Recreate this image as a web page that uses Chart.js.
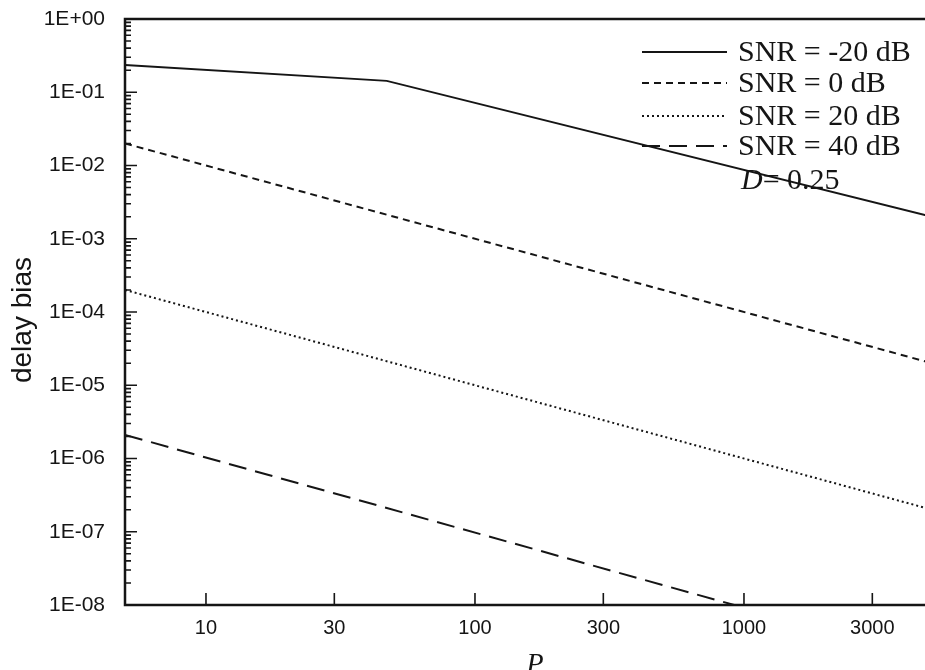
<!DOCTYPE html>
<html>
<head>
<meta charset="utf-8">
<title>delay bias vs P</title>
<script src="https://cdn.jsdelivr.net/npm/chart.js@4/dist/chart.umd.min.js"></script>
<style>
  html, body { margin: 0; padding: 0; background: #fff; overflow: hidden; }
  #canvasContainer { position: relative; width: 932px; height: 670px; }
</style>
</head>
<body>
<div id="canvasContainer"><canvas id="myChart"></canvas></div>
<script>
// values
const seriesLabels = ["SNR = -20 dB", "SNR = 0 dB", "SNR = 20 dB", "SNR = 40 dB"];
const pM20 = [5, 47, 5000];
const biasM20 = [0.236, 0.143, 0.002];
const p0 = [5, 5000];
const bias0 = [0.02, 2e-5];
const p20 = [5, 5000];
const bias20 = [2e-4, 2e-7];
const p40 = [5, 920];
const bias40 = [2.1e-6, 1e-8];
const xTicks = [10, 30, 100, 300, 1000, 3000];
const yExps = [0, -1, -2, -3, -4, -5, -6, -7, -8];
const noteVar = "D";
const noteRest = "= 0.25";

const ink = "#151515";
const dashes = [[], [7, 5], [2, 3], [18, 9]];

const toPoints = (xs, ys) => xs.map((x, i) => ({ x: x, y: ys[i] }));

const makeSet = (label, xs, ys, i) => ({
    label: label,
    data: toPoints(xs, ys),
    borderColor: ink,
    borderWidth: 2,
    borderDash: dashes[i],
    pointRadius: 0,
    tension: 0,
    fill: false
});

const fmtExp = (v) => {
    const e = Math.round(Math.log10(v));
    const s = e >= 0 ? "+" : "-";
    return "1E" + s + String(Math.abs(e)).padStart(2, "0");
};

// axes frame, inward ticks, legend and axis titles
const framePlugin = {
    id: "frame",
    afterDatasetsDraw(chart) {
        const ctx = chart.ctx;
        const a = chart.chartArea;
        const xs = chart.scales.x;
        const ys = chart.scales.y;
        ctx.save();
        ctx.strokeStyle = ink;
        ctx.setLineDash([]);

        // frame lines (left, bottom, top)
        ctx.lineWidth = 2.5;
        ctx.beginPath();
        ctx.moveTo(a.right + 2, a.top);
        ctx.lineTo(a.left, a.top);
        ctx.lineTo(a.left, a.bottom);
        ctx.lineTo(a.right + 2, a.bottom);
        ctx.stroke();

        // y ticks, major and minor
        ctx.lineWidth = 1.6;
        ctx.beginPath();
        yExps.forEach(e => {
            const y = ys.getPixelForValue(Math.pow(10, e));
            ctx.moveTo(a.left, y);
            ctx.lineTo(a.left + 12, y);
            if (e < 0) {
                for (let m = 2; m <= 9; m++) {
                    const ym = ys.getPixelForValue(m * Math.pow(10, e));
                    ctx.moveTo(a.left, ym);
                    ctx.lineTo(a.left + 6, ym);
                }
            }
        });
        // x ticks
        xTicks.forEach(v => {
            const x = xs.getPixelForValue(v);
            ctx.moveTo(x, a.bottom);
            ctx.lineTo(x, a.bottom - 12);
        });
        ctx.stroke();

        // legend inside the plot
        const lx0 = 642, lx1 = 727, tx = 738;
        const lineY = [52, 83, 116, 146];
        const baseY = [61, 92, 125, 155];
        ctx.font = "30px 'Liberation Serif'";
        ctx.textBaseline = "alphabetic";
        ctx.textAlign = "left";
        ctx.fillStyle = ink;
        chart.data.datasets.forEach((ds, i) => {
            ctx.lineWidth = 2;
            ctx.setLineDash(ds.borderDash);
            ctx.beginPath();
            ctx.moveTo(lx0, lineY[i]);
            ctx.lineTo(lx1, lineY[i]);
            ctx.stroke();
            ctx.fillText(ds.label, tx, baseY[i]);
        });
        ctx.setLineDash([]);
        ctx.font = "italic 30px 'Liberation Serif'";
        ctx.fillText(noteVar, tx + 3, 189);
        const dw = ctx.measureText(noteVar).width;
        ctx.font = "30px 'Liberation Serif'";
        ctx.fillText(noteRest, tx + 3 + dw, 189);

        // axis titles
        ctx.font = "italic 28px 'Liberation Serif'";
        ctx.textAlign = "center";
        ctx.fillText("P", 535, 672);

        ctx.translate(31, 320);
        ctx.rotate(-Math.PI / 2);
        ctx.font = "28px 'Liberation Sans'";
        ctx.fillText("delay bias", 0, 0);
        ctx.restore();
    }
};

const conf = {
    type: "line",
    data: {
        datasets: [
            makeSet(seriesLabels[0], pM20, biasM20, 0),
            makeSet(seriesLabels[1], p0, bias0, 1),
            makeSet(seriesLabels[2], p20, bias20, 2),
            makeSet(seriesLabels[3], p40, bias40, 3)
        ]
    },
    options: {
        responsive: true,
        maintainAspectRatio: false,
        animation: false,
        layout: { padding: { top: 19, left: 0, right: 0, bottom: 0 } },
        plugins: { legend: { display: false }, tooltip: { enabled: false } },
        scales: {
            x: {
                type: "logarithmic",
                min: 5,
                max: 5000,
                grid: { display: false, drawTicks: false },
                border: { display: false },
                afterBuildTicks: (axis) => { axis.ticks = xTicks.map(v => ({ value: v })); },
                afterFit: (axis) => {
                    axis.height = 65;
                    axis.paddingLeft = 0;
                    axis.paddingRight = 0;
                },
                ticks: {
                    autoSkip: false,
                    maxRotation: 0,
                    padding: 11,
                    color: ink,
                    font: { family: "'Liberation Sans'", size: 20 },
                    callback: (v) => String(v)
                }
            },
            y: {
                type: "logarithmic",
                min: 1e-8,
                max: 1,
                grid: { display: false, drawTicks: false },
                border: { display: false },
                afterBuildTicks: (axis) => { axis.ticks = yExps.map(e => ({ value: Math.pow(10, e) })); },
                afterFit: (axis) => {
                    axis.width = 125;
                    axis.paddingTop = 0;
                    axis.paddingBottom = 0;
                },
                ticks: {
                    autoSkip: false,
                    padding: 20,
                    color: ink,
                    font: { family: "'Liberation Sans'", size: 21 },
                    callback: (v) => fmtExp(v)
                }
            }
        }
    },
    plugins: [framePlugin]
};

new Chart(document.getElementById("myChart"), conf);
</script>
</body>
</html>
